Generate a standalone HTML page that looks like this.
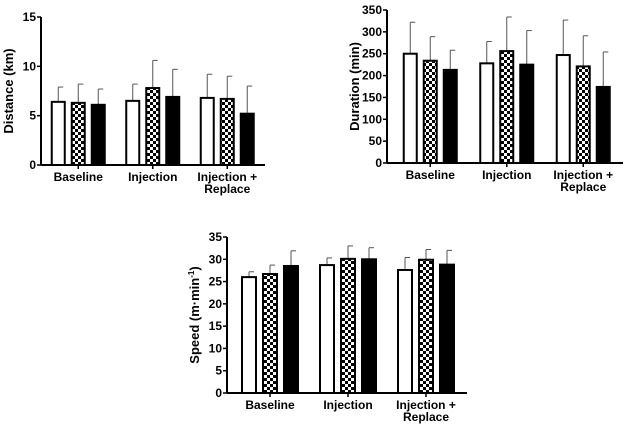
<!DOCTYPE html>
<html><head><meta charset="utf-8"><style>
body{margin:0;background:#fff;width:629px;height:431px;overflow:hidden}
text{font-family:"Liberation Sans",sans-serif;font-weight:bold;fill:#000}
</style></head><body>
<svg id="svg" width="629" height="431">
<defs><pattern id="chk" width="6" height="6" patternUnits="userSpaceOnUse"><rect width="6" height="6" fill="#fff"/><rect width="3" height="3" fill="#000"/><rect x="3" y="3" width="3" height="3" fill="#000"/></pattern></defs>
</svg>
<script>
const categories=["Baseline","Injection","Injection +|Replace"];
const distMean=[[6.4,6.3,6.1],[6.5,7.8,6.9],[6.8,6.7,5.2]];
const distErr=[[1.5,1.9,1.6],[1.7,2.8,2.8],[2.4,2.3,2.8]];
const durMean=[[250,234,213],[228,256,225],[247,221,174]];
const durErr=[[72,55,45],[50,78,78],[80,70,80]];
const spdMean=[[26,26.7,28.5],[28.7,30.1,30],[27.6,29.9,28.8]];
const spdErr=[[1.2,2,3.4],[1.6,2.9,2.6],[2.8,2.3,3.2]];
const distTicks=[0,5,10,15];
const durTicks=[0,50,100,150,200,250,300,350];
const spdTicks=[0,5,10,15,20,25,30,35];
const NS="http://www.w3.org/2000/svg";
const svg=document.getElementById('svg');
function mk(t,a,p){const e=document.createElementNS(NS,t);for(const k in a)e.setAttribute(k,a[k]);(p||svg).appendChild(e);return e;}
function chart(o){
 const g=mk('g',{});
 
 
 const y=v=>o.y0-(v/o.max)*(o.y0-o.yTop);
 const fills=['#fff','url(#chk)','#000'];
 o.mean.forEach((grp,gi)=>{
  const cx=o.x0+o.gap*(gi+0.5)+o.offset;
  grp.forEach((v,si)=>{
   const bx=cx+(si-1)*o.step-o.bw/2;
   const ey=y(v+o.err[gi][si]);
   const ln=mk('line',{x1:bx+o.bw/2,x2:bx+o.bw/2,y1:y(v),y2:ey,stroke:'#555','stroke-width':1},g);
   
   
   const cap=mk('line',{x1:bx+o.bw/2,x2:bx+o.bw/2+5,y1:ey,y2:ey,stroke:'#555','stroke-width':1},g);
   
   
   const r=mk('rect',{x:bx,y:y(v),width:o.bw,height:o.y0-y(v),fill:fills[si],stroke:'#000','stroke-width':2},g);
   
   
  });
  mk('line',{x1:cx,x2:cx,y1:o.y0,y2:o.y0+4,stroke:'#000','stroke-width':1.5},g);
  const lines=categories[gi].split('|');
  lines.forEach((s,li)=>{const t=mk('text',{x:cx,y:o.y0+16+li*12,'text-anchor':'middle','font-size':12},g);t.textContent=s;
   
   });
 });
 mk('line',{x1:o.x0,x2:o.x0,y1:o.yTop,y2:o.y0,stroke:'#000','stroke-width':2},g);
 mk('line',{x1:o.x0,x2:o.xEnd,y1:o.y0,y2:o.y0,stroke:'#000','stroke-width':2},g);
 o.ticks.forEach(v=>{mk('line',{x1:o.x0-4,x2:o.x0,y1:y(v),y2:y(v),stroke:'#000','stroke-width':1.5},g);
  const t=mk('text',{x:o.x0-5,y:y(v)+4,'text-anchor':'end','font-size':12},g);t.textContent=v;
  
  });
 const yt=mk('text',{x:0,y:0,'text-anchor':'middle','font-size':13,transform:`translate(${o.titleX},${(o.y0+o.yTop)/2}) rotate(-90)`},g);
 yt.innerHTML=o.title;
 
 
}
chart({name:'distance-chart',x0:41,xEnd:265,yTop:17,y0:165,max:15,gap:74.5,offset:0,step:20,bw:13,mean:distMean,err:distErr,ticks:distTicks,title:'Distance (km)',titleX:13});
chart({name:'duration-chart',x0:387,xEnd:623,yTop:10,y0:163,max:350,gap:76.5,offset:5,step:20,bw:13,mean:durMean,err:durErr,ticks:durTicks,title:'Duration (min)',titleX:359});
chart({name:'speed-chart',x0:227,xEnd:467,yTop:237,y0:393,max:35,gap:78,offset:4,step:21,bw:14,mean:spdMean,err:spdErr,ticks:spdTicks,title:'Speed (m·min<tspan dy="-5" font-size="8">-1</tspan><tspan dy="5">)</tspan>',titleX:199});
</script>
</body></html>
